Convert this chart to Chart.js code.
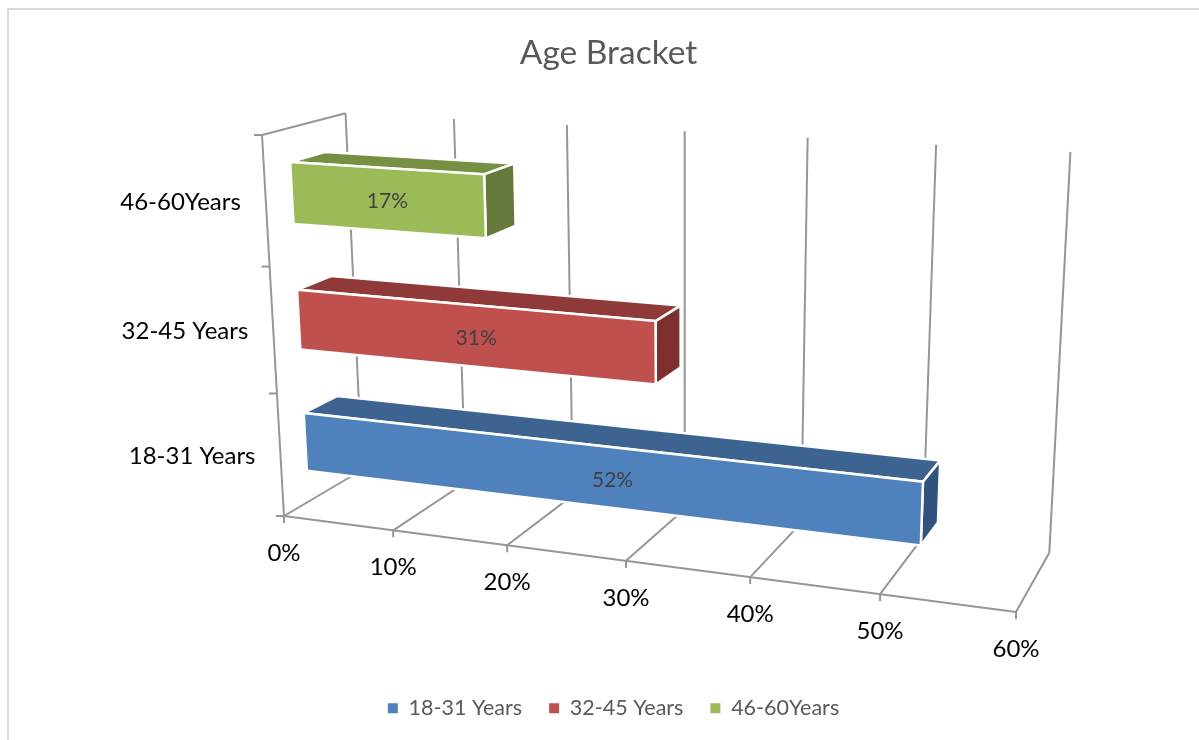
<!DOCTYPE html>
<html>
<head>
<meta charset="utf-8">
<title>Age Bracket</title>
<script src="https://cdn.jsdelivr.net/npm/chart.js@4"></script>
<style>
  html, body { margin: 0; padding: 0; background: #fff; overflow: hidden; }
  #frame { position: absolute; left: 7px; top: 8px; right: 0; bottom: 0;
           border-left: 2px solid #d9d9d9; border-top: 2px solid #d9d9d9; }
  canvas { position: absolute; left: 0; top: 0; }
</style>
</head>
<body>
<div id="frame"></div>
<canvas id="chart" width="1199" height="740"></canvas>
<script>
// Chart data
const categories = ['18-31 Years', '32-45 Years', '46-60Years'];
const bracket18to31 = [52, null, null];
const bracket32to45 = [null, 31, null];
const bracket46to60 = [null, null, 17];
const axisMax = 60;
const axisStep = 10;

// Face colours per series: front, top, side
const palette = [
  { front: '#4F81BD', top: '#3D6390', side: '#30527C' },
  { front: '#C0504D', top: '#8F3A38', side: '#7C2F2D' },
  { front: '#9BBB59', top: '#778F42', side: '#65793A' }
];

const FONT = 'Lato, "Open Sans", sans-serif';
const GRID = '#969696';

// Projective camera for the unit box (t along values, d into depth, h up the categories)
const camera = {
  origin: [284, 516], valueEnd: [1016, 612], depthEnd: [362, 470], heightEnd: [262, 135],
  wValue: 0.877, wDepth: 1.071, wHeight: 0.948
};
const barDepth = [0.3, 0.72];

function project(t, d, h) {
  const c = camera, o = c.origin;
  const num = i => o[i]
    + t * (c.wValue * c.valueEnd[i] - o[i])
    + d * (c.wDepth * c.depthEnd[i] - o[i])
    + h * (c.wHeight * c.heightEnd[i] - o[i]);
  const w = 1 + t * (c.wValue - 1) + d * (c.wDepth - 1) + h * (c.wHeight - 1);
  return [num(0) / w, num(1) / w];
}

function line(ctx, a, b) {
  ctx.beginPath();
  ctx.moveTo(a[0], a[1]);
  ctx.lineTo(b[0], b[1]);
  ctx.stroke();
}

function face(ctx, pts, fill) {
  ctx.beginPath();
  pts.forEach((p, i) => i ? ctx.lineTo(p[0], p[1]) : ctx.moveTo(p[0], p[1]));
  ctx.closePath();
  ctx.fillStyle = fill;
  ctx.fill();
  ctx.strokeStyle = '#ffffff';
  ctx.lineWidth = 2.5;
  ctx.lineJoin = 'miter';
  ctx.stroke();
}

// Draws axes, walls and tick labels in perspective from the chart's own scales
const perspectiveAxes = {
  id: 'perspectiveAxes',
  beforeDatasetsDraw(chart) {
    const { ctx, scales: { x, y } } = chart;
    const tOf = v => (x.getPixelForValue(v) - x.left) / x.width;
    const bands = categories.length;
    ctx.save();
    ctx.strokeStyle = GRID;
    ctx.lineWidth = 2;
    ctx.lineCap = 'butt';

    x.ticks.forEach(tick => {
      const t = tOf(tick.value);
      const front = project(t, 0, 0);
      const back = project(t, 1, 0);
      const top = project(t, 1, 1);
      line(ctx, front, back);
      line(ctx, back, top);
      line(ctx, front, [front[0], front[1] + 7]);
    });
    line(ctx, project(0, 0, 0), project(1, 0, 0));
    line(ctx, project(0, 0, 0), project(0, 0, 1));
    line(ctx, project(0, 0, 1), project(0, 1, 1));
    for (let i = 0; i <= bands; i++) {
      const p = project(0, 0, i / bands);
      line(ctx, p, [p[0] - 8, p[1]]);
    }

    ctx.fillStyle = '#000000';
    ctx.font = '24px ' + FONT;
    ctx.textBaseline = 'middle';
    ctx.textAlign = 'center';
    x.ticks.forEach(tick => {
      const p = project(tOf(tick.value), 0, 0);
      ctx.fillText(tick.label, p[0], p[1] + 37);
    });
    ctx.textAlign = 'right';
    y.ticks.forEach(tick => {
      const h = (y.bottom - y.getPixelForValue(tick.value)) / y.height;
      const p = project(0, 0, h);
      ctx.fillText(tick.label, p[0] - 25, p[1] + 1);
    });
    ctx.restore();
  },
  // Replaces each flat bar with a box: top, side, then front face and its label
  beforeDatasetDraw(chart, args) {
    const { ctx, scales: { x, y } } = chart;
    const meta = chart.getDatasetMeta(args.index);
    const values = chart.data.datasets[args.index].data;
    const colours = palette[args.index];
    const [d0, d1] = barDepth;
    meta.data.forEach((bar, i) => {
      if (values[i] === null) return;
      const t0 = (bar.base - x.left) / x.width;
      const t1 = (bar.x - x.left) / x.width;
      const h0 = (y.bottom - (bar.y + bar.height / 2)) / y.height;
      const h1 = (y.bottom - (bar.y - bar.height / 2)) / y.height;
      const front = [project(t0, d0, h0), project(t1, d0, h0), project(t1, d0, h1), project(t0, d0, h1)];
      ctx.save();
      face(ctx, [project(t0, d0, h1), project(t1, d0, h1), project(t1, d1, h1), project(t0, d1, h1)], colours.top);
      face(ctx, [project(t1, d0, h0), project(t1, d1, h0), project(t1, d1, h1), project(t1, d0, h1)], colours.side);
      face(ctx, front, colours.front);
      const cx = front.reduce((s, p) => s + p[0], 0) / 4;
      const cy = front.reduce((s, p) => s + p[1], 0) / 4;
      ctx.fillStyle = '#404040';
      ctx.font = '21px ' + FONT;
      ctx.textAlign = 'center';
      ctx.textBaseline = 'middle';
      ctx.fillText(values[i] + '%', cx - 1, cy + 2);
      ctx.restore();
    });
    return false;
  },
  afterLayout(chart) {
    // Title and legend sit right of the canvas centre
    chart.titleBlock.left += 9;
    chart.titleBlock.right += 9;
    chart.legend.left += 14;
    chart.legend.right += 14;
  }
};

const seriesOf = (label, data, i) => ({ label, data, backgroundColor: palette[i].front });

new Chart(document.getElementById('chart'), {
  type: 'bar',
  data: {
    labels: categories,
    datasets: [
      seriesOf('18-31 Years', bracket18to31, 0),
      seriesOf('32-45 Years', bracket32to45, 1),
      seriesOf('46-60Years', bracket46to60, 2)
    ]
  },
  options: {
    indexAxis: 'y',
    responsive: false,
    animation: false,
    barPercentage: 0.48,
    categoryPercentage: 1,
    layout: { padding: { bottom: 11 } },
    scales: {
      x: {
        stacked: true, min: 0, max: axisMax,
        grid: { display: false }, border: { display: false },
        ticks: { display: false, stepSize: axisStep, callback: v => v + '%' }
      },
      y: {
        stacked: true, reverse: true,
        grid: { display: false }, border: { display: false },
        ticks: { display: false }
      }
    },
    plugins: {
      title: {
        display: true, text: 'Age Bracket', color: '#595959',
        font: { family: FONT, size: 33.5, weight: 'normal' },
        padding: { top: 33, bottom: 20 }
      },
      legend: {
        position: 'bottom',
        labels: { color: '#595959', boxWidth: 10, boxHeight: 10, padding: 27, font: { family: FONT, size: 21.5 } }
      },
      tooltip: { enabled: false }
    }
  },
  plugins: [perspectiveAxes]
});
</script>
</body>
</html>
